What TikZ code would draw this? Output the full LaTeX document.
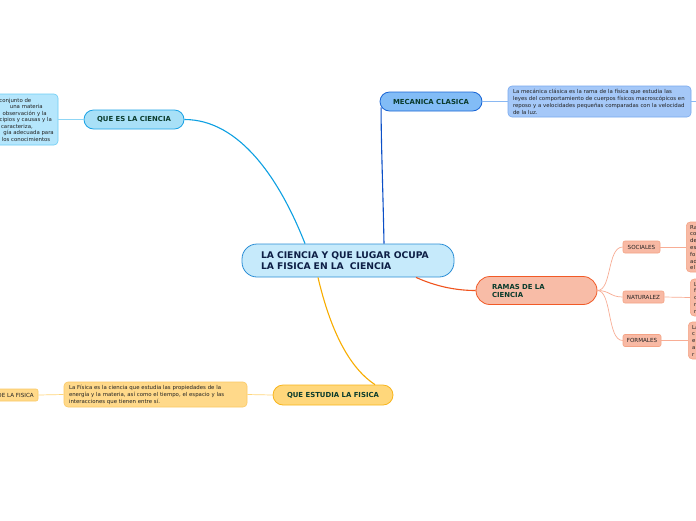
\documentclass[tikz,border=0pt]{standalone}
\usepackage{fontspec}
\setmainfont{DejaVu Sans}
\definecolor{cenF}{HTML}{C6EAFB}\definecolor{cenB}{HTML}{2B8ED6}\definecolor{cenT}{HTML}{0D1E45}
\definecolor{ttl}{HTML}{0A3B2C}\definecolor{dsc}{HTML}{222222}
\definecolor{qF}{HTML}{A8E0F7}\definecolor{qB}{HTML}{1CA3E6}\definecolor{qL}{HTML}{0EA0E2}
\definecolor{qdF}{HTML}{B5E6FC}\definecolor{qdB}{HTML}{6CCDF5}\definecolor{qdL}{HTML}{8FD6F5}
\definecolor{mF}{HTML}{82BCF6}\definecolor{mB}{HTML}{1A66D6}\definecolor{mL}{HTML}{0B4FC7}
\definecolor{mdF}{HTML}{A5C8F8}\definecolor{mdB}{HTML}{78A9EF}\definecolor{mdL}{HTML}{8AB8F2}
\definecolor{rF}{HTML}{F8BCA7}\definecolor{rB}{HTML}{F15A27}\definecolor{rL}{HTML}{F0541E}
\definecolor{sF}{HTML}{F8B9A4}\definecolor{sB}{HTML}{F4A385}\definecolor{sL}{HTML}{F8AD95}
\definecolor{yF}{HTML}{FFD77B}\definecolor{yB}{HTML}{F8B51C}\definecolor{yL}{HTML}{F8AD00}
\definecolor{ydF}{HTML}{FFD98A}\definecolor{ydB}{HTML}{FBC964}\definecolor{ydL}{HTML}{FFD67A}
\tikzset{
 topic/.style={rectangle, line width=0.8pt, text=ttl, font=\fontsize{6.9}{8}\selectfont\bfseries, inner sep=0pt},
 descbox/.style={rectangle, rounded corners=4pt, line width=0.6pt, text=dsc, align=left, font=\fontsize{5.4}{7}\selectfont, inner xsep=5pt, inner ysep=0pt},
 subbox/.style={rectangle, rounded corners=2pt, line width=0.6pt, draw=sB, fill=sF, text=dsc, font=\fontsize{5.6}{6}\selectfont, inner sep=0pt, minimum height=12pt},
 frag/.style={text=dsc, align=left, font=\fontsize{5.4}{6.8}\selectfont, inner sep=0pt},
 mainlink/.style={line width=1.1pt},
 sublink/.style={line width=0.7pt}
}
\begin{document}
\begin{tikzpicture}[x=1pt,y=-1pt]
\useasboundingbox (0,0) rectangle (696,520);
\clip (0,0) rectangle (696,520);
\fill[white] (0,0) rectangle (696,520);

% central
\node[rectangle, draw=cenB, fill=cenF, line width=0.8pt, rounded corners=15pt, minimum width=212pt, minimum height=33pt, text width=174pt, inner xsep=19pt, inner ysep=0pt, align=left, text=cenT, font=\fontsize{9.2}{11}\selectfont\bfseries] (central) at (348,260.5) {LA CIENCIA Y QUE LUGAR OCUPA\\LA FISICA EN LA\ \ CIENCIA};

% QUE ES LA CIENCIA
\node[topic, draw=qB, fill=qF, rounded corners=9.5pt, minimum width=100pt, minimum height=19pt] (quees) at (134,119.5) {QUE ES LA CIENCIA};
\node[rectangle, draw=qdB, fill=qdF, rounded corners=4pt, line width=0.6pt, minimum width=90pt, minimum height=51pt, inner sep=0pt] (qdesc) at (13,119.5) {};
\node[frag, anchor=base east] (q1) at (31.5,102) {conjunto de};
\node[frag, anchor=base east] (q2) at (43,108.5) {una materia};
\node[frag, anchor=base east] (q3) at (47,115) {observación y la};
\node[frag, anchor=base east] (q4) at (52,121.5) {cipios y causas y la};
\node[frag, anchor=base east] (q5) at (33,128) {caracteriza,};
\node[frag, anchor=base east] (q6) at (54,134.5) {gía adecuada para};
\node[frag, anchor=base east] (q7) at (50.5,141) {los conocimientos};
\draw[qdL, sublink] (qdesc.east) -- (quees.west);
\draw[qL, mainlink] ([xshift=-43pt]central.north) .. controls (280,180) and (240,119.5) .. (quees.east);

% MECANICA CLASICA
\node[topic, draw=mB, fill=mF, rounded corners=9.5pt, minimum width=102pt, minimum height=19pt] (meca) at (431,101.5) {MECANICA CLASICA};
\node[descbox, draw=mdB, fill=mdF, text width=173pt, minimum height=31pt] (mdesc) at (599.5,101.5) {La mecánica clásica es la rama de la física que estudia las\\leyes del comportamiento de cuerpos físicos macroscópicos en\\reposo y a velocidades pequeñas comparadas con la velocidad\\de la luz.};
\coordinate (mend) at (696,101.5);
\draw[mdL, sublink] (meca.east) -- (mdesc.west);
\draw[mdL, sublink] (mdesc.east) -- (mend);
\draw[mL, mainlink] ([xshift=36pt]central.north) .. controls (383,190) and (381,140) .. ([xshift=1.5pt,yshift=4pt]meca.south west);

% RAMAS DE LA CIENCIA
\node[topic, draw=rB, fill=rF, rounded corners=14pt, minimum width=121pt, minimum height=28pt, text width=89pt, inner xsep=16pt, align=left, font=\fontsize{6.9}{8}\selectfont\bfseries] (ramas) at (536.5,290.5) {RAMAS DE LA\\CIENCIA};
\draw[rL, mainlink] ([xshift=68pt]central.south) .. controls (435,286) and (455,290.5) .. (ramas.west);

\node[subbox, minimum width=37pt] (soc) at (641.5,247) {SOCIALES};
\node[subbox, minimum width=41pt] (nat) at (643.5,297) {NATURALEZ};
\node[subbox, minimum width=38pt] (for) at (642,340.5) {FORMALES};
\draw[sL, sublink] (ramas.east) .. controls (612,290.5) and (607,247) .. (soc.west);
\draw[sL, sublink] (ramas.east) .. controls (610,290.5) and (610,297) .. (nat.west);
\draw[sL, sublink] (ramas.east) .. controls (612,290.5) and (607,340.5) .. (for.west);

\node[rectangle, draw=sB, fill=sF, rounded corners=4pt, line width=0.6pt, minimum width=40pt, minimum height=50pt, inner sep=0pt, anchor=west] (socd) at (686,247) {};
\node[rectangle, draw=sB, fill=sF, rounded corners=4pt, line width=0.6pt, minimum width=40pt, minimum height=37pt, inner sep=0pt, anchor=west] (natd) at (690,297.5) {};
\node[rectangle, draw=sB, fill=sF, rounded corners=4pt, line width=0.6pt, minimum width=40pt, minimum height=37pt, inner sep=0pt, anchor=west] (ford) at (688,340.5) {};
\node[frag, anchor=north west] (soct) at (690,225) {Ra\\co\\de\\es\\fo\\ad\\el};
\node[frag, anchor=north west] (natt) at (694,282) {L\\f\\c\\r\\n};
\node[frag, anchor=north west] (fort) at (692,325) {La\\c\\e\\a\\r};
\draw[sL, sublink] (soc.east) -- (socd.west);
\draw[sL, sublink] (nat.east) -- (natd.west);
\draw[sL, sublink] (for.east) -- (ford.west);

% QUE ESTUDIA LA FISICA
\node[topic, draw=yB, fill=yF, rounded corners=10pt, minimum width=120pt, minimum height=20pt] (estudia) at (333,395) {QUE ESTUDIA LA FISICA};
\draw[yL, mainlink] ([xshift=-30pt]central.south) .. controls (328,320) and (345,365) .. ([xshift=42pt]estudia.north);
\node[descbox, draw=ydB, fill=ydF, text width=173pt, minimum height=25pt] (ydesc) at (155.5,394.5) {La Física es la ciencia que estudia las propiedades de la\\energía y la materia, así como el tiempo, el espacio y las\\interacciones que tienen entre sí.};
\draw[ydL, sublink] (estudia.west) -- (ydesc.east);
\node[rectangle, draw=ydB, fill=ydF, rounded corners=2pt, line width=0.6pt, minimum width=60pt, minimum height=12pt, inner sep=0pt] (ydef) at (8,395) {};
\node[frag, anchor=east, font=\fontsize{5.6}{6}\selectfont] (ydeft) at (34,395) {DE LA FISICA};
\draw[ydL, sublink] (ydesc.west) -- (ydef.east);
\end{tikzpicture}
\end{document}
